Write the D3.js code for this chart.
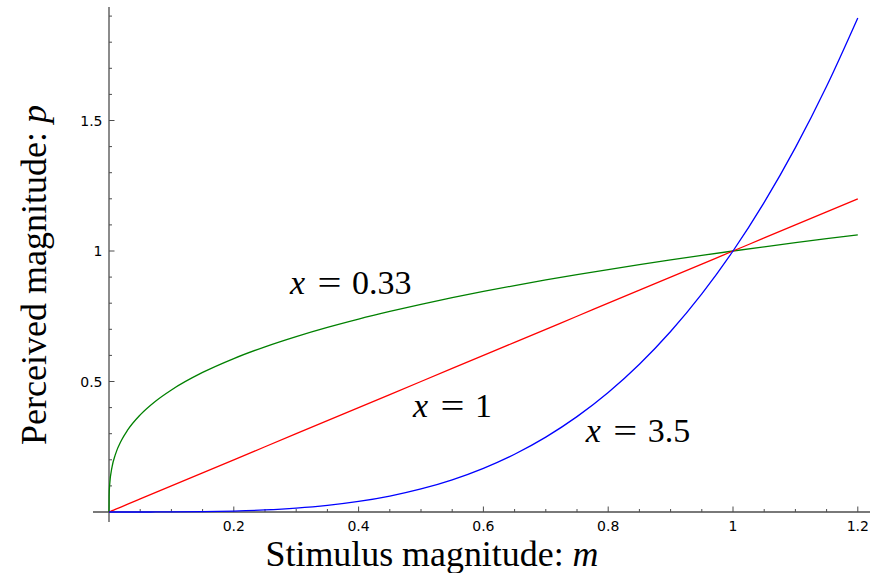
<!DOCTYPE html>
<html>
<head>
<meta charset="utf-8">
<script src="https://cdn.jsdelivr.net/npm/d3@7"></script>
<style>
  html, body { margin: 0; padding: 0; background: #fff; }
  svg { display: block; }
</style>
</head>
<body>
<svg id="chart" width="873" height="573"></svg>
<script>
// ---- data ----
const stimulus = [0, 0.0002, 0.001, 0.005, 0.01, 0.02, 0.03, 0.05, 0.075, 0.1, 0.15, 0.2, 0.25, 0.3, 0.35, 0.4, 0.45, 0.5, 0.55, 0.6, 0.65, 0.7, 0.75, 0.8, 0.85, 0.9, 0.95, 1.0, 1.05, 1.1, 1.15, 1.2];
const perceivedX033 = [0, 0.0602, 0.1023, 0.1741, 0.2188, 0.2750, 0.3144, 0.3721, 0.4254, 0.4677, 0.5347, 0.5880, 0.6329, 0.6721, 0.7072, 0.7390, 0.7683, 0.7956, 0.8210, 0.8449, 0.8675, 0.8890, 0.9094, 0.9290, 0.9478, 0.9658, 0.9832, 1.0, 1.0162, 1.0320, 1.0472, 1.0620];
const perceivedX1 = [0, 0.0002, 0.001, 0.005, 0.01, 0.02, 0.03, 0.05, 0.075, 0.1, 0.15, 0.2, 0.25, 0.3, 0.35, 0.4, 0.45, 0.5, 0.55, 0.6, 0.65, 0.7, 0.75, 0.8, 0.85, 0.9, 0.95, 1.0, 1.05, 1.1, 1.15, 1.2];
const perceivedX35 = [0, 0, 0, 0, 0, 0, 0, 0.000028, 0.000115, 0.000316, 0.001307, 0.003578, 0.007813, 0.01479, 0.02536, 0.04048, 0.06113, 0.08839, 0.12339, 0.16731, 0.22141, 0.28698, 0.36535, 0.45795, 0.56619, 0.69159, 0.83567, 1.0, 1.18622, 1.39597, 1.63096, 1.89293];

const seriesExponents = ["0.33", "1", "3.5"];
const seriesValues = [perceivedX033, perceivedX1, perceivedX35];
const seriesColors = ["#008000", "#ff0000", "#0000ff"];
// label anchors in data units (m, p)
const labelM = [0.29, 0.487, 0.764];
const labelP = [0.835, 0.364, 0.268];

const xMajorTicks = [0.2, 0.4, 0.6, 0.8, 1, 1.2];
const xTickLabels = ["0.2", "0.4", "0.6", "0.8", "1", "1.2"];
const yMajorTicks = [0.5, 1, 1.5];
const yTickLabels = ["0.5", "1", "1.5"];

// ---- drawing ----
const svg = d3.select("#chart");
const x = d3.scaleLinear().domain([0, 1.2]).range([109, 857.8]);
const y = d3.scaleLinear().domain([0, 1]).range([512, 251]);

const axisColor = "#4d4d4d";
const tickFont = "'DejaVu Sans', sans-serif";
const serif = "'Liberation Serif', 'DejaVu Serif', serif";

// axis lines
svg.append("line").attr("x1", 93).attr("x2", 870).attr("y1", y(0)).attr("y2", y(0))
  .attr("stroke", axisColor).attr("stroke-width", 1.3);
svg.append("line").attr("x1", x(0)).attr("x2", x(0)).attr("y1", 7).attr("y2", 522)
  .attr("stroke", axisColor).attr("stroke-width", 1.3);

// x ticks (inside, upward)
const xMinor = d3.range(1, 25).map(i => i * 0.05).filter(v => !xMajorTicks.some(t => Math.abs(t - v) < 1e-9));
svg.append("g").selectAll("line").data(xMinor).join("line")
  .attr("x1", d => x(d)).attr("x2", d => x(d)).attr("y1", y(0)).attr("y2", y(0) - 3)
  .attr("stroke", axisColor).attr("stroke-width", 1);
svg.append("g").selectAll("line").data(xMajorTicks).join("line")
  .attr("x1", d => x(d)).attr("x2", d => x(d)).attr("y1", y(0)).attr("y2", y(0) - 5.5)
  .attr("stroke", axisColor).attr("stroke-width", 1);
svg.append("g").selectAll("text").data(xMajorTicks).join("text")
  .attr("x", d => x(d)).attr("y", y(0) + 18.5)
  .attr("text-anchor", "middle").attr("font-family", tickFont).attr("font-size", 14)
  .attr("fill", "#000").text((d, i) => xTickLabels[i]);

// y ticks (inside, rightward)
const yMinor = d3.range(1, 20).map(i => i * 0.1).filter(v => !yMajorTicks.some(t => Math.abs(t - v) < 1e-9));
svg.append("g").selectAll("line").data(yMinor).join("line")
  .attr("x1", x(0)).attr("x2", x(0) + 3).attr("y1", d => y(d)).attr("y2", d => y(d))
  .attr("stroke", axisColor).attr("stroke-width", 1);
svg.append("g").selectAll("line").data(yMajorTicks).join("line")
  .attr("x1", x(0)).attr("x2", x(0) + 5.5).attr("y1", d => y(d)).attr("y2", d => y(d))
  .attr("stroke", axisColor).attr("stroke-width", 1);
svg.append("g").selectAll("text").data(yMajorTicks).join("text")
  .attr("x", x(0) - 6.5).attr("y", d => y(d) + 5)
  .attr("text-anchor", "end").attr("font-family", tickFont).attr("font-size", 14)
  .attr("fill", "#000").text((d, i) => yTickLabels[i]);

// curves
const line = d3.line().curve(d3.curveMonotoneX);
seriesValues.forEach((vals, i) => {
  const pts = stimulus.map((m, j) => [x(m), y(vals[j])]);
  svg.append("path").attr("d", line(pts)).attr("fill", "none")
    .attr("stroke", seriesColors[i]).attr("stroke-width", 1.3);
});

// curve labels: "x = value" laid out piece by piece (TeX-like spacing)
seriesExponents.forEach((e, i) => {
  const x0 = x(labelM[i]), y0 = y(labelP[i]);
  const g = svg.append("g").attr("font-family", serif).attr("font-size", 34).attr("fill", "#000");
  g.append("text").attr("x", x0).attr("y", y0).attr("font-style", "italic").text("x");
  g.append("text").attr("x", x0 + 39.5).attr("y", y0).attr("text-anchor", "middle")
    .attr("transform", `translate(${x0 + 39.5},${y0}) scale(1.25,1) translate(${-(x0 + 39.5)},${-y0})`)
    .text("=");
  g.append("text").attr("x", x0 + 62).attr("y", y0).text(e);
});

// axis titles
const xt = svg.append("text").attr("x", 432).attr("y", 566).attr("text-anchor", "middle")
  .attr("font-family", serif).attr("font-size", 35).attr("fill", "#000")
  .attr("textLength", 333).attr("lengthAdjust", "spacingAndGlyphs");
xt.append("tspan").text("Stimulus magnitude: ");
xt.append("tspan").attr("font-style", "italic").text("m");

const yt = svg.append("text").attr("transform", "translate(46,275) rotate(-90)")
  .attr("text-anchor", "middle")
  .attr("font-family", serif).attr("font-size", 35).attr("fill", "#000")
  .attr("textLength", 340).attr("lengthAdjust", "spacingAndGlyphs");
yt.append("tspan").text("Perceived magnitude: ");
yt.append("tspan").attr("font-style", "italic").text("p");
</script>
</body>
</html>
